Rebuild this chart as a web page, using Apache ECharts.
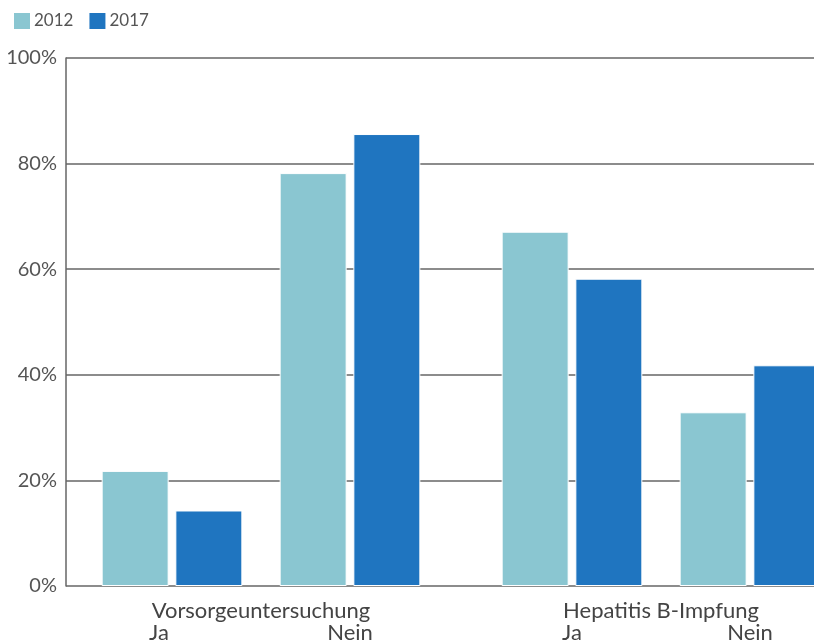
<!DOCTYPE html>
<html>
<head>
<meta charset="utf-8">
<script src="https://cdn.jsdelivr.net/npm/echarts@6/dist/echarts.min.js"></script>
<style>
  html, body { margin: 0; padding: 0; background: #fff; }
  #chart { width: 814px; height: 641px; }
</style>
</head>
<body>
<div id="chart"></div>
<script>
// Survey results: share of respondents answering Ja / Nein, 2012 vs 2017
const years = ['2012', '2017'];
const groups = ['Vorsorgeuntersuchung', 'Hepatitis B-Impfung'];
const answers = ['Ja', 'Nein'];
const vorsorge2012 = [21.8, 78.2];
const vorsorge2017 = [14.3, 85.6];
const hepatitis2012 = [67.1, 32.9];
const hepatitis2017 = [58.2, 41.8];
const yMin = 0, yMax = 100, yStep = 20;

const colors = { '2012': '#8AC6D1', '2017': '#1F75C0' };
const fontFamily = 'Lato, "Liberation Sans", sans-serif';
const lineColor = '#666';

const chart = echarts.init(document.getElementById('chart'), null, { renderer: 'canvas' });

const plotTop = 58, plotBottom = 55;

function groupAxis(gridIndex, name, shiftFirst) {
  return {
    type: 'category', gridIndex, data: answers,
    axisLine: { show: false }, axisTick: { show: false },
    axisLabel: {
      margin: 36, fontSize: 22, color: '#444', fontFamily,
      formatter: (v, i) => (shiftFirst && i === 0) ? '{s|' + v + '}' : v,
      rich: { s: { fontSize: 22, color: '#444', fontFamily, padding: [0, 26, 0, 0] } }
    },
    name, nameLocation: 'middle', nameGap: 14, nameMoveOverlap: false,
    nameTextStyle: { fontSize: 22, color: '#444', fontFamily }
  };
}

function hiddenValueAxis(gridIndex) {
  return { type: 'value', gridIndex, min: yMin, max: yMax, interval: yStep, show: false };
}

function barSeries(year, xi, data) {
  return {
    name: year, type: 'bar', xAxisIndex: xi, yAxisIndex: xi, data,
    barWidth: 67, barGap: '10%',
    itemStyle: { color: colors[year], borderColor: '#fff', borderWidth: 1 },
    z: 3
  };
}

chart.setOption({
  animation: false,
  legend: {
    data: years, left: 7, top: 6, itemWidth: 18, itemHeight: 18, itemGap: 14,
    icon: 'rect',
    textStyle: { fontSize: 17, color: '#555', fontFamily, padding: [0, 0, 0, -2] }
  },
  grid: [
    { left: 66, right: 0, top: plotTop, bottom: plotBottom, outerBoundsMode: 'none' },
    { left: 83, width: 356, top: plotTop, bottom: plotBottom, outerBoundsMode: 'none' },
    { left: 483, width: 356, top: plotTop, bottom: plotBottom, outerBoundsMode: 'none' }
  ],
  xAxis: [
    { type: 'category', gridIndex: 0, data: [''], show: false },
    groupAxis(1, groups[0], true),
    groupAxis(2, groups[1], false)
  ],
  yAxis: [
    {
      type: 'value', gridIndex: 0, min: yMin, max: yMax, interval: yStep,
      axisLine: { show: true, lineStyle: { color: lineColor, width: 1.5 } },
      axisTick: { show: false },
      splitLine: { lineStyle: { color: lineColor, width: 1.5 } },
      axisLabel: { formatter: '{value}%', fontSize: 20, color: '#555', fontFamily, margin: 9 }
    },
    hiddenValueAxis(1),
    hiddenValueAxis(2)
  ],
  series: [
    barSeries('2012', 1, vorsorge2012),
    barSeries('2017', 1, vorsorge2017),
    barSeries('2012', 2, hepatitis2012),
    barSeries('2017', 2, hepatitis2017)
  ]
});
</script>
</body>
</html>
